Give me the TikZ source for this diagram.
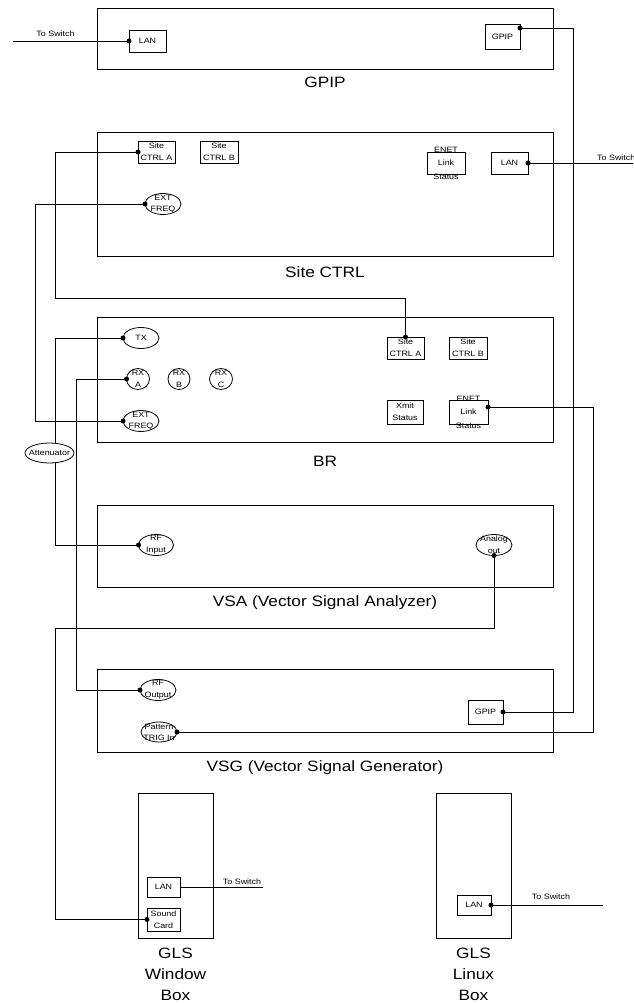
\documentclass[tikz,border=0pt]{standalone}
\usepackage{fontspec}
\setmainfont[FakeStretch=1.15]{Liberation Sans}
\usetikzlibrary{shapes.geometric}
\begin{document}
\begin{tikzpicture}[x=1pt,y=-1pt,
  bx/.style={draw,line width=0.8pt,inner sep=0pt,outer sep=0pt,anchor=north west},
  el/.style={draw,ellipse,line width=0.8pt,inner sep=0pt,outer sep=0pt},
  lbl/.style={font=\fontsize{7.75}{12}\selectfont,align=center,inner sep=0pt},
  lbltight/.style={font=\fontsize{7.75}{11}\selectfont,align=center,inner sep=0pt},
  lblwide/.style={font=\fontsize{7.75}{13.5}\selectfont,align=center,inner sep=0pt},
  big/.style={font=\fontsize{15}{21}\selectfont,align=center,inner sep=0pt},
  wire/.style={line width=0.8pt},
  dot/.style={circle,fill,inner sep=0pt,minimum size=5pt},
]
\useasboundingbox (0,0) rectangle (633,1003);

% main boxes
\node[bx,minimum width=456pt,minimum height=61pt] (gpip) at (97,8) {};
\node[bx,minimum width=456pt,minimum height=124pt] (sc) at (97,132) {};
\node[bx,minimum width=456pt,minimum height=125pt] (br) at (97,317) {};
\node[bx,minimum width=456pt,minimum height=82pt] (vsa) at (97,505) {};
\node[bx,minimum width=456pt,minimum height=83pt] (vsg) at (97,669) {};
\node[bx,minimum width=75pt,minimum height=145pt] (glsw) at (138,793) {};
\node[bx,minimum width=75pt,minimum height=145pt] (glsl) at (436,793) {};

\node[big] (gpipT) at (325,82) {GPIP};
\node[big] (scT) at (325,272) {Site CTRL};
\node[big] (brT) at (325,461) {BR};
\node[big] (vsaT) at (325,603) {VSA (Vector Signal Analyzer)};
\node[big] (vsgT) at (325,768) {VSG (Vector Signal Generator)};
\node[big,anchor=north] (glswT) at (175.5,947.5) {GLS\\Window\\Box};
\node[big,anchor=north] (glslT) at (473.5,947.5) {GLS\\Linux\\Box};

% small boxes
\node[bx,minimum width=37pt,minimum height=22pt] (gpipLan) at (129,30) {};
\node[lbl] (gpipLanT) at (gpipLan.center) {LAN};
\node[bx,minimum width=35pt,minimum height=25pt] (gpipGpip) at (485,24) {};
\node[lbl] (gpipGpipT) at (gpipGpip.center) {GPIP};

\node[bx,minimum width=37pt,minimum height=22pt] (scA) at (138,141) {};
\node[lbl] (scAT) at (scA.center) {Site\\CTRL A};
\node[bx,minimum width=38pt,minimum height=22pt] (scB) at (200,141) {};
\node[lbl] (scBT) at (scB.center) {Site\\CTRL B};
\node[bx,minimum width=38pt,minimum height=22pt] (scEnet) at (427,152) {};
\node[lblwide] (scEnetT) at (scEnet.center) {ENET\\Link\\Status};
\node[bx,minimum width=37pt,minimum height=22pt] (scLan) at (491,152) {};
\node[lbl] (scLanT) at (scLan.center) {LAN};

\node[bx,minimum width=37pt,minimum height=22pt] (brA) at (387,337) {};
\node[lbl] (brAT) at (brA.center) {Site\\CTRL A};
\node[bx,minimum width=38pt,minimum height=22pt] (brB) at (449,337) {};
\node[lbl] (brBT) at (brB.center) {Site\\CTRL B};
\node[bx,minimum width=36pt,minimum height=24pt] (brX) at (387,400) {};
\node[lbl] (brXT) at (brX.center) {Xmit\\Status};
\node[bx,minimum width=39pt,minimum height=24pt] (brEnet) at (449,400) {};
\node[lblwide] (brEnetT) at (brEnet.center) {ENET\\Link\\Status};

\node[bx,minimum width=35pt,minimum height=24pt] (vsgGpip) at (468,700) {};
\node[lbl] (vsgGpipT) at (vsgGpip.center) {GPIP};

\node[bx,minimum width=33pt,minimum height=20pt] (wLan) at (147,877) {};
\node[lbl] (wLanT) at (wLan.center) {LAN};
\node[bx,minimum width=33pt,minimum height=23pt] (wSnd) at (147,908) {};
\node[lbl] (wSndT) at (wSnd.center) {Sound\\Card};
\node[bx,minimum width=34pt,minimum height=20pt] (lLan) at (457,895) {};
\node[lbl] (lLanT) at (lLan.center) {LAN};

% ellipses
\node[el,minimum width=36pt,minimum height=21pt] (scExt) at (163,204) {};
\node[lbltight] (scExtT) at (scExt.center) {EXT\\FREQ};
\node[el,minimum width=36pt,minimum height=21pt] (brTx) at (141,338) {};
\node[lbl] (brTxT) at (brTx.center) {TX};
\node[el,minimum width=23pt,minimum height=21pt] (brRxA) at (138,379) {};
\node[lbl] (brRxAT) at (brRxA.center) {RX\\A};
\node[el,minimum width=22pt,minimum height=21pt] (brRxB) at (179,379) {};
\node[lbl] (brRxBT) at (brRxB.center) {RX\\B};
\node[el,minimum width=23pt,minimum height=21pt] (brRxC) at (221,379) {};
\node[lbl] (brRxCT) at (brRxC.center) {RX\\C};
\node[el,minimum width=36pt,minimum height=21pt] (brExt) at (141,421) {};
\node[lbltight] (brExtT) at (brExt.center) {EXT\\FREQ};
\node[el,minimum width=49pt,minimum height=20pt] (att) at (49.5,453) {};
\node[lbl] (attT) at (att.center) {Attenuator};
\node[el,minimum width=35pt,minimum height=21pt] (vsaRf) at (156,545) {};
\node[lbl] (vsaRfT) at (vsaRf.center) {RF\\Input};
\node[el,minimum width=36pt,minimum height=21pt] (vsaAn) at (494,545) {};
\node[lbl] (vsaAnT) at (vsaAn.center) {Analog\\out};
\node[el,minimum width=36pt,minimum height=21pt] (vsgRf) at (158,690) {};
\node[lbl] (vsgRfT) at (vsgRf.center) {RF\\Output};
\node[el,minimum width=36pt,minimum height=20pt] (vsgPat) at (159,732) {};
\node[lbltight] (vsgPatT) at (vsgPat.center) {Pattern\\TRIG In};

% helper coordinates
\coordinate (railA) at (55,0);
\coordinate (railE) at (35,0);
\coordinate (railR) at (76,0);
\coordinate (railG) at (573,0);
\coordinate (railP) at (593,0);
\coordinate (jog1) at (55,298);
\coordinate (jog2) at (55,628);
\coordinate (gpipDot) at ([yshift=-4pt]gpipGpip.north east);
\coordinate (enetDot) at ([yshift=-7pt]brEnet.north east);
\coordinate (tsA) at (13,41);
\coordinate (tsB) at (633,163);
\coordinate (tsC) at (263,887);
\coordinate (tsD) at (603,905);

% wires
\draw[wire] (tsA) -- (gpipLan.west);
\draw[wire] (scLan.east) -- (tsB);
\draw[wire] (wLan.east) -- (tsC);
\draw[wire] (lLan.east) -- (tsD);
\draw[wire] (scA.west) -| (jog1) -| (brA.north);
\draw[wire] (scExt.west) -| (railE |- brExt.west) -- (brExt.west);
\draw[wire] (brTx.west) -| (railA |- att.north);
\draw[wire] (railA |- att.south) |- (vsaRf.west);
\draw[wire] (brRxA.west) -| (railR |- vsgRf.west) -- (vsgRf.west);
\draw[wire] (gpipDot) -| (railG |- vsgGpip.east) -- (vsgGpip.east);
\draw[wire] (enetDot) -| (railP |- vsgPat.east) -- (vsgPat.east);
\draw[wire] (vsaAn.south) |- (jog2) |- (wSnd.west);

% to switch labels
\node[lbl,anchor=base] (tsAT) at (55.5,36.8) {To Switch};
\node[lbl,anchor=base west] (tsBT) at (597,160.8) {To Switch};
\node[lbl,anchor=base] (tsCT) at (242,884.8) {To Switch};
\node[lbl,anchor=base] (tsDT) at (551,899.8) {To Switch};

% dots
\node[dot] (d1) at (gpipLan.west) {};
\node[dot] (d2) at (gpipDot) {};
\node[dot] (d3) at (scA.west) {};
\node[dot] (d4) at (scLan.east) {};
\node[dot] (d5) at (scExt.west) {};
\node[dot] (d6) at (brTx.west) {};
\node[dot] (d7) at (brRxA.west) {};
\node[dot] (d8) at (brExt.west) {};
\node[dot] (d9) at (brA.north) {};
\node[dot] (d10) at (enetDot) {};
\node[dot] (d11) at (vsaRf.west) {};
\node[dot] (d12) at (vsaAn.south) {};
\node[dot] (d13) at (vsgRf.west) {};
\node[dot] (d14) at (vsgGpip.east) {};
\node[dot] (d15) at (vsgPat.east) {};
\node[dot] (d16) at (wSnd.west) {};
\node[dot] (d17) at (lLan.east) {};
\end{tikzpicture}
\end{document}
